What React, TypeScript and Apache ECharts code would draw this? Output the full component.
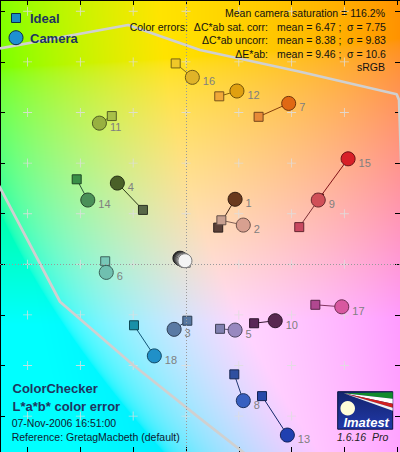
import React, { useEffect, useRef } from "react";
import * as echarts from "echarts";

const W = 400;
const H = 452;

// Axis limits (a* horizontal, b* vertical) and tick step
const A_MIN = -70.45;
const A_MAX = 81.06;
const B_MIN = -74.19;
const B_MAX = 104.47;
const TICK_STEP = 20;

// background rendering parameters (lightness of the a*b* plane)
const BG_L = 90;
const BG_B_SHIFT = 8;

// grid "+" marks positions
const CROSS_A = [-60, -40, -20, 0, 20, 40, 60];
const CROSS_B = [-60, -40, -20, 0, 20, 40, 60, 80, 100];

// ColorChecker patches 1..24
const PATCH_NO = [1, 2, 3, 4, 5, 6, 7, 8, 9, 10, 11, 12, 13, 14, 15, 16, 17, 18, 19, 20, 21, 22, 23, 24];
const IDEAL_A = [12.2, 13.4, 0.5, -16.3, 12.9, -30.6, 27.5, 18.3, 42.9, 25.8, -28.1, 12.6, 28.8, -41.4, 50.4, -3.9, 49.0, -19.7, -0.1, -0.2, -0.3, -0.4, -0.5, -0.6];
const IDEAL_B = [14.5, 17.4, -22.3, 21.5, -25.5, 1.2, 58.3, -43.5, 14.7, -23.3, 58.6, 66.4, -52.1, 33.6, 26.0, 79.4, -16.0, -24.1, 0.6, 0.7, 0.8, 0.9, 1.0, 1.1];
const CAMERA_A = [18.6, 21.7, -4.5, -26.0, 18.6, -30.2, 38.9, 21.7, 50.1, 33.8, -32.8, 19.3, 38.4, -37.2, 61.4, 2.4, 59.0, -12.0, -0.4, -0.8, -1.2, -1.6, -2.0, -2.3];
const CAMERA_B = [25.7, 15.5, -25.7, 32.1, -26.0, -3.2, 63.6, -53.9, 25.4, -22.3, 55.8, 68.5, -67.5, 25.4, 41.7, 73.9, -16.8, -36.2, 1.4, 1.6, 1.8, 2.0, 2.2, 2.4];
const IDEAL_COLOR = ["#5a4038", "#c8a090", "#5878a0", "#586848", "#8080b0", "#78c8b8", "#e88a38", "#3050a0", "#c84860", "#5a2858", "#a8c048", "#f0a838", "#2848a8", "#3a9048", "#c02028", "#f0c828", "#b04890", "#1890a8", "#f0f0f0", "#c8c8c8", "#a0a0a0", "#7a7a7a", "#505050", "#282828"];
const CAMERA_COLOR = ["#6a3a1e", "#d8a090", "#5a7aa4", "#4a6028", "#9888c0", "#70c0b0", "#e06814", "#3860c0", "#d05058", "#582850", "#98b040", "#e0a010", "#2040b0", "#4a9058", "#d82028", "#e0b428", "#d858a0", "#2090c8", "#f4f4f4", "#cccccc", "#a4a4a4", "#7c7c7c", "#545454", "#262626"];
const LABELED_COUNT = 18;

// sRGB gamut boundary traces (a*, b*)
const GAMUT_UPPER_A = [-75, -21.9, 5.3, 43.2, 79.8, 80.7, 81.5];
const GAMUT_UPPER_B = [84.5, 94.6, 84.7, 76.1, 67.2, 64.9, 40];
const GAMUT_LOWER_A = [-74.2, -47.7, -20.0, 5.3, 21.6, 28.0];
const GAMUT_LOWER_B = [37.7, -14.8, -39.8, -60.9, -74.2, -79.3];

// Texts
const STATS_TITLE = "Mean camera saturation = 116.2%";
const STATS_NAMES = ["Color errors:  \u0394C*ab sat. corr:", "\u0394C*ab uncorr:", "\u0394E*ab:"];
const STATS_MEAN = ["mean = 6.47 ;", "mean = 8.38 ;", "mean = 9.46 ;"];
const STATS_SIGMA = ["\u03c3 = 7.75", "\u03c3 = 9.83", "\u03c3 = 10.6"];
const COLOR_SPACE = "sRGB";
const TITLE_LINES = ["ColorChecker", "L*a*b* color error"];
const INFO_LINES = ["07-Nov-2006 16:51:00", "Reference: GretagMacbeth (default)"];

const FONT = "'Liberation Sans', Arial, sans-serif";

function darken(hex: string, f: number): string {
  const n = parseInt(hex.slice(1), 16);
  const r = Math.round(((n >> 16) & 255) * f);
  const g = Math.round(((n >> 8) & 255) * f);
  const b = Math.round((n & 255) * f);
  return `rgb(${r},${g},${b})`;
}

function labToRgb(L: number, a: number, b: number): [number, number, number] {
  const fy = (L + 16) / 116;
  const fx = fy + a / 500;
  const fz = fy - b / 200;
  const d = 6 / 29;
  const finv = (t: number) => (t > d ? t * t * t : 3 * d * d * (t - 4 / 29));
  const X = 0.95047 * finv(fx);
  const Y = finv(fy);
  const Z = 1.08883 * finv(fz);
  const lin = [
    3.2406 * X - 1.5372 * Y - 0.4986 * Z,
    -0.9689 * X + 1.8758 * Y + 0.0415 * Z,
    0.0557 * X - 0.204 * Y + 1.057 * Z,
  ];
  const out = lin.map((v) => {
    const c = Math.min(1, Math.max(0, v));
    const g = c <= 0.0031308 ? 12.92 * c : 1.055 * Math.pow(c, 1 / 2.4) - 0.055;
    return Math.round(g * 255);
  });
  return [out[0], out[1], out[2]];
}

function makeBackground(): string {
  const cv = document.createElement("canvas");
  cv.width = W;
  cv.height = H;
  const ctx = cv.getContext("2d");
  if (!ctx) return "";
  const img = ctx.createImageData(W, H);
  for (let y = 0; y < H; y++) {
    const bb = B_MAX - ((y + 0.5) / H) * (B_MAX - B_MIN);
    for (let x = 0; x < W; x++) {
      const aa = A_MIN + ((x + 0.5) / W) * (A_MAX - A_MIN);
      const [r, g, b] = labToRgb(BG_L, aa, bb + BG_B_SHIFT);
      const i = (y * W + x) * 4;
      img.data[i] = r;
      img.data[i + 1] = g;
      img.data[i + 2] = b;
      img.data[i + 3] = 255;
    }
  }
  ctx.putImageData(img, 0, 0);
  return cv.toDataURL("image/png");
}

function txt(text: string, x: number, y: number, font: string, fill: string, align = "left") {
  return {
    type: "text",
    z: 100,
    silent: true,
    style: {
      text,
      x,
      y,
      font,
      fill,
      align,
      textAlign: align,
      verticalAlign: "middle",
      textVerticalAlign: "middle",
    },
  };
}

function buildOption(bg: string) {
  const crosses: number[][] = [];
  CROSS_A.forEach((a) => CROSS_B.forEach((b) => crosses.push([a, b])));

  const connectors = PATCH_NO.map((_, i) => ({
    coords: [
      [IDEAL_A[i], IDEAL_B[i]],
      [CAMERA_A[i], CAMERA_B[i]],
    ],
    lineStyle: { color: darken(CAMERA_COLOR[i], 0.6) },
  }));

  const idx = PATCH_NO.map((_, i) => i);
  const neutralsReversed = idx.slice(LABELED_COUNT).reverse();
  const ordered = idx.slice(0, LABELED_COUNT).concat(neutralsReversed);

  const squares = ordered.map((i) => ({
    name: String(PATCH_NO[i]),
    value: [IDEAL_A[i], IDEAL_B[i]],
    itemStyle: { color: IDEAL_COLOR[i], borderColor: darken(IDEAL_COLOR[i], 0.5), opacity: 1 },
  }));

  const circles = ordered.map((i) => ({
    name: String(PATCH_NO[i]),
    value: [CAMERA_A[i], CAMERA_B[i]],
    itemStyle: { color: CAMERA_COLOR[i], borderColor: darken(CAMERA_COLOR[i], 0.5), opacity: 1 },
    label: { show: i < LABELED_COUNT },
  }));

  const statsY = [26.8, 40.3, 53.8];
  const graphic: any[] = [
    { type: "image", z: -10, silent: true, x: 0, y: 0, style: { image: bg, x: 0, y: 0, width: W, height: H } },
    // legend
    { type: "rect", z: 100, silent: true, shape: { x: 11.5, y: 13.5, width: 9, height: 9 }, style: { fill: "#1a8cc4", stroke: "#0c2c4c", lineWidth: 1 } },
    { type: "circle", z: 100, silent: true, shape: { cx: 16, cy: 37.7, r: 7 }, style: { fill: "#1e90d0", stroke: "#0c2c4c", lineWidth: 1 } },
    txt("Ideal", 30, 18.5, `bold 13px ${FONT}`, "#1e3560"),
    txt("Camera", 30, 38, `bold 13px ${FONT}`, "#1e3560"),
    // stats
    txt(STATS_TITLE, 385, 13.3, `10.5px ${FONT}`, "#111", "right"),
    ...STATS_NAMES.map((s, i) => txt(s, 268, statsY[i], `10.5px ${FONT}`, "#111", "right")),
    ...STATS_MEAN.map((s, i) => txt(s, 277, statsY[i], `10.5px ${FONT}`, "#111")),
    ...STATS_SIGMA.map((s, i) => txt(s, 347, statsY[i], `10.5px ${FONT}`, "#111")),
    txt(COLOR_SPACE, 385, 67.3, `10.5px ${FONT}`, "#111", "right"),
    // bottom-left titles
    txt(TITLE_LINES[0], 12.5, 388.3, `bold 13px ${FONT}`, "#1e3560"),
    txt(TITLE_LINES[1], 12.5, 406, `bold 13px ${FONT}`, "#1e3560"),
    txt(INFO_LINES[0], 11.7, 423.3, `10.5px ${FONT}`, "#101830"),
    txt(INFO_LINES[1], 11.7, 436.7, `10.5px ${FONT}`, "#101830"),
    // logo
    {
      type: "group",
      x: 337.7,
      y: 391.7,
      z: 100,
      silent: true,
      children: [
        {
          type: "rect",
          z: 100,
          shape: { x: 0, y: 0, width: 55, height: 37.5 },
          style: {
            fill: new echarts.graphic.LinearGradient(0, 0, 0, 1, [
              { offset: 0, color: "#14246c" },
              { offset: 1, color: "#2038aa" },
            ]),
            stroke: "#0a1040",
            lineWidth: 1,
          },
        },
        { type: "polygon", z: 101, shape: { points: [[6, 1.5], [55, 0.5], [55, 7]] }, style: { fill: "#128a2c" } },
        { type: "polygon", z: 101, shape: { points: [[6, 1.5], [55, 7], [55, 12]] }, style: { fill: "#ffffff" } },
        { type: "polygon", z: 101, shape: { points: [[6, 1.5], [55, 12], [55, 16]] }, style: { fill: "#d02020" } },
        { type: "polygon", z: 101, shape: { points: [[6, 1.5], [55, 16], [55, 19]] }, style: { fill: "#f2f2f2" } },
        { type: "circle", z: 102, shape: { cx: 10, cy: 16.6, r: 7.3 }, style: { fill: "#fffcd8" } },
        {
          type: "text",
          z: 102,
          style: {
            text: "Imatest",
            x: 28.5,
            y: 31,
            font: `italic bold 13px ${FONT}`,
            fill: "#ffffff",
            align: "center",
            textAlign: "center",
            verticalAlign: "middle",
            textVerticalAlign: "middle",
          },
        },
      ],
    },
    txt("1.6.16  Pro", 337, 437, `italic 10.5px ${FONT}`, "#222"),
  ];

  const axisCommon = {
    type: "value",
    splitNumber: 8,
    minInterval: TICK_STEP,
    maxInterval: TICK_STEP,
    axisLine: { show: true, onZero: false, lineStyle: { color: "#000", width: 1 } },
    axisTick: { show: true, inside: true, length: 5, lineStyle: { color: "#000", width: 1 } },
    axisLabel: { show: false },
    splitLine: { show: false },
  };

  return {
    animation: false,
    backgroundColor: "transparent",
    grid: { left: 0, top: 0, width: W, height: H, containLabel: false },
    xAxis: [
      { ...axisCommon, min: A_MIN, max: A_MAX, position: "bottom" },
      { ...axisCommon, min: A_MIN, max: A_MAX, position: "top" },
    ],
    yAxis: [
      { ...axisCommon, min: B_MIN, max: B_MAX, position: "left", splitNumber: 9 },
      { ...axisCommon, min: B_MIN, max: B_MAX, position: "right", splitNumber: 9 },
    ],
    graphic,
    series: [
      {
        type: "scatter",
        z: 1,
        silent: true,
        symbol: "path://M4.5,0h1v4.5h4.5v1h-4.5v4.5h-1v-4.5h-4.5v-1h4.5z",
        symbolSize: 9,
        itemStyle: { color: "rgba(222,222,222,0.85)", opacity: 1 },
        data: crosses,
        markLine: {
          silent: true,
          symbol: "none",
          label: { show: false },
          lineStyle: { color: "#9a9a9a", type: [1, 2], width: 1 },
          data: [{ xAxis: 0 }, { yAxis: 0 }],
        },
      },
      {
        type: "line",
        z: 2,
        silent: true,
        showSymbol: false,
        data: GAMUT_UPPER_A.map((a, i) => [a, GAMUT_UPPER_B[i]]),
        lineStyle: { color: "#d0d0d0", width: 2.7 },
      },
      {
        type: "line",
        z: 2,
        silent: true,
        showSymbol: false,
        data: GAMUT_LOWER_A.map((a, i) => [a, GAMUT_LOWER_B[i]]),
        lineStyle: { color: "#d0d0d0", width: 2.7 },
      },
      {
        type: "lines",
        coordinateSystem: "cartesian2d",
        z: 3,
        silent: true,
        lineStyle: { width: 1, opacity: 1 },
        data: connectors,
      },
      {
        type: "scatter",
        z: 4,
        silent: true,
        symbol: "rect",
        symbolSize: 9,
        itemStyle: { borderWidth: 1, opacity: 1 },
        data: squares,
      },
      {
        type: "scatter",
        z: 5,
        silent: true,
        symbol: "circle",
        symbolSize: 14,
        itemStyle: { borderWidth: 1, opacity: 1 },
        label: {
          show: true,
          position: "right",
          distance: 3,
          offset: [0, 4],
          formatter: (p: any) => p.name,
          color: "#808080",
          fontSize: 11,
          fontFamily: FONT,
        },
        data: circles,
      },
    ],
  };
}

export default function App() {
  const ref = useRef<HTMLDivElement>(null);
  useEffect(() => {
    if (!ref.current) return;
    const chart = echarts.init(ref.current, undefined, { renderer: "svg", width: W, height: H });
    chart.setOption(buildOption(makeBackground()) as any);
    return () => chart.dispose();
  }, []);
  return <div ref={ref} style={{ position: "absolute", left: 0, top: 0, width: W, height: H }} />;
}
